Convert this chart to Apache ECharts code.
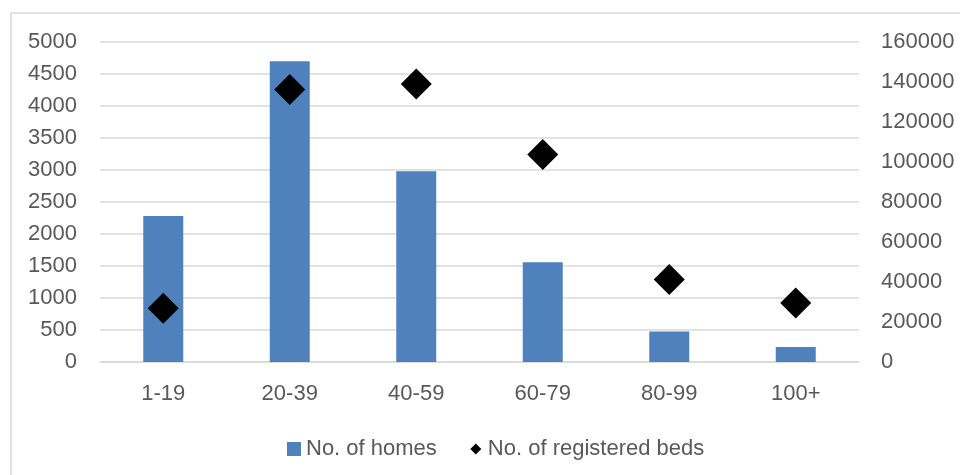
<!DOCTYPE html>
<html>
<head>
<meta charset="utf-8">
<script src="https://cdn.jsdelivr.net/npm/echarts@6/dist/echarts.min.js"></script>
<style>
  html, body { margin: 0; padding: 0; background: #fff; }
  #chart { width: 960px; height: 475px; }
</style>
</head>
<body>
<div id="chart"></div>
<script>
// bed-size bands
const categories = ['1-19', '20-39', '40-59', '60-79', '80-99', '100+']
const homes = [2280, 4700, 2980, 1560, 475, 235]
const beds = [26900, 136300, 139000, 103700, 41300, 29500]

const textColor = '#595959'
const gridColor = '#d9d9d9'
const font = 'Liberation Sans'
const fontSize = 22

const chart = echarts.init(document.getElementById('chart'))
chart.setOption({
    animation: false,
    backgroundColor: '#fff',
    textStyle: { fontFamily: font },
    graphic: [{
        type: 'rect',
        shape: { x: 11, y: 13, width: 1000, height: 500 },
        style: { fill: 'none', stroke: gridColor, lineWidth: 1.5 },
        silent: true
    }],
    grid: { left: 100, right: 101, top: 42, bottom: 113 },
    legend: {
        bottom: 10,
        left: 282,
        itemWidth: 14,
        itemHeight: 14,
        itemGap: 32,
        textStyle: { color: textColor, fontSize: fontSize, fontFamily: font },
        data: [
            { name: 'No. of homes', icon: 'rect' },
            { name: 'No. of registered beds', icon: 'path://M0,0M14,14M7,1.5L12.5,7L7,12.5L1.5,7Z' }
        ]
    },
    xAxis: {
        type: 'category',
        data: categories,
        axisTick: { show: false },
        axisLine: { lineStyle: { color: gridColor, width: 1.5 } },
        axisLabel: { color: textColor, fontSize: fontSize, margin: 21 }
    },
    yAxis: [{
        type: 'value',
        min: 0,
        max: 5000,
        interval: 500,
        axisLabel: { color: textColor, fontSize: fontSize, margin: 23, formatter: v => String(v) },
        splitLine: { lineStyle: { color: gridColor, width: 1.5 } }
    }, {
        type: 'value',
        min: 0,
        max: 160000,
        interval: 20000,
        axisLabel: { color: textColor, fontSize: fontSize, margin: 22, formatter: v => String(v) },
        splitLine: { show: false }
    }],
    series: [{
        name: 'No. of homes',
        type: 'bar',
        data: homes,
        barWidth: 40,
        itemStyle: { color: '#4f81bd' }
    }, {
        name: 'No. of registered beds',
        type: 'scatter',
        yAxisIndex: 1,
        data: beds,
        symbol: 'diamond',
        symbolSize: 31,
        itemStyle: { color: '#000', opacity: 1 }
    }]
})
</script>
</body>
</html>
